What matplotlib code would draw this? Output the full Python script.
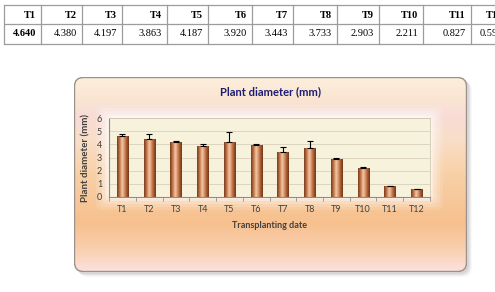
import numpy as np
import matplotlib.pyplot as plt
from matplotlib.patches import FancyBboxPatch
from matplotlib.colors import LinearSegmentedColormap

dates = ["T1", "T2", "T3", "T4", "T5", "T6", "T7", "T8", "T9", "T10", "T11", "T12"]
diameter = [4.640, 4.380, 4.197, 3.863, 4.187, 3.920, 3.443, 3.733, 2.903, 2.211, 0.827, 0.593]
err_up = [0.13, 0.44, 0.03, 0.13, 0.76, 0.10, 0.32, 0.53, 0.05, 0.05, 0.04, 0.05]
y_ticks = [0, 1, 2, 3, 4, 5, 6]

W, H = 495, 292
fig = plt.figure(figsize=(W / 100, H / 100), dpi=100)
fig.patch.set_facecolor("white")

# layer in pixel coordinates for the table and the box shadow
tab = fig.add_axes([0, 0, 1, 1])
tab.set_xlim(0, W)
tab.set_ylim(H, 0)
tab.axis("off")

col_edges = [4, 41, 82, 122, 167, 208, 252, 293, 337, 379, 423, 471, 508]
line_col = "#9c9c9c"
for yy in (5, 24, 44):
    tab.plot([col_edges[0], W], [yy, yy], color=line_col, lw=0.9, solid_capstyle="butt")
for xx in col_edges:
    tab.plot([xx, xx], [5, 44], color=line_col, lw=0.9)
for i, (d, v) in enumerate(zip(dates, diameter)):
    xr = col_edges[i + 1] - 5
    tab.text(xr, 15, d, ha="right", va="center", family="Liberation Serif",
             weight="bold", fontsize=7.5, color="black")
    tab.text(xr, 34, f"{v:.3f}", ha="right", va="center", family="Liberation Serif",
             weight="bold" if i == 0 else "normal", fontsize=7.5, color="black")

# chart box shadow
bx0, by0, bx1, by1 = 74, 77, 467, 272
for k, a in enumerate([0.10, 0.08, 0.06, 0.04]):
    sh = FancyBboxPatch((bx0 + 2 + k, by0 + 2 + k), bx1 - bx0, by1 - by0,
                        boxstyle="round,pad=0,rounding_size=9",
                        facecolor="#6e5f60", edgecolor="none", alpha=a)
    tab.add_patch(sh)

# chart box with gradient background
bw, bh = bx1 - bx0, by1 - by0
box = fig.add_axes([bx0 / W, 1 - by1 / H, bw / W, bh / H])
box.set_xlim(0, bw)
box.set_ylim(bh, 0)
box.axis("off")
bg_cmap = LinearSegmentedColormap.from_list("bg", [
    (0.00, "#fcefdc"), (0.10, "#fae6d2"), (0.20, "#f8dcd6"), (0.32, "#f9dec8"),
    (0.50, "#f8d0a6"), (0.75, "#f7c08e"), (0.88, "#f9cfae"), (1.00, "#fce2de")])
grad = np.linspace(0, 1, 256).reshape(-1, 1)
im = box.imshow(grad, cmap=bg_cmap, extent=(0, bw, bh, 0), aspect="auto", origin="upper")
frame = FancyBboxPatch((0.5, 0.5), bw - 1, bh - 1, boxstyle="round,pad=0,rounding_size=9",
                       facecolor="none", edgecolor="#9a908c", lw=1.0)
box.add_patch(frame)
im.set_clip_path(frame)

# white glow around plot area
px0, py0, px1, py1 = 109, 118, 430, 197
for pad, a in [(13, 0.12), (10, 0.15), (7, 0.2), (4, 0.3), (2, 0.4)]:
    g = FancyBboxPatch((px0 - bx0 - pad, py0 - by0 - pad), (px1 - px0) + 2 * pad,
                       (py1 - py0) + 2 * pad, boxstyle="round,pad=0,rounding_size=6",
                       facecolor="white", edgecolor="none", alpha=a)
    box.add_patch(g)

# plot
ax = fig.add_axes([px0 / W, 1 - py1 / H, (px1 - px0) / W, (py1 - py0) / H])
ax.set_facecolor("#f7f2dc")
x = np.arange(len(dates))
bars = ax.bar(x, diameter, width=0.42, color="#c07850", edgecolor="none", zorder=2)
bar_cmap = LinearSegmentedColormap.from_list("bar", [
    "#7a3c1c", "#a85f36", "#d08c64", "#f2c6a4", "#e2a47c", "#bf7548", "#9a5028", "#733719"])
hgrad = np.linspace(0, 1, 64).reshape(1, -1)
for b in bars:
    bi = ax.imshow(hgrad, cmap=bar_cmap, aspect="auto", zorder=2.1,
                   extent=(b.get_x(), b.get_x() + b.get_width(), 0, b.get_height()))
    bi.set_clip_path(b)
ax.errorbar(x, diameter, yerr=[np.zeros(len(x)), err_up], fmt="none", ecolor="black",
            elinewidth=0.8, capsize=2.5, capthick=0.8, zorder=3)

ax.set_xlim(-0.5, len(dates) - 0.5)
ax.set_ylim(0, 6)
ax.set_yticks(y_ticks)
ax.yaxis.grid(True, color="#d8d0ba", lw=0.6, zorder=0)
ax.set_axisbelow(True)
ax.set_xticks(x)
ax.set_xticklabels(dates)
ax.set_xticks(np.arange(-0.5, len(dates)), minor=True)
ax.tick_params(axis="x", which="major", length=0, pad=6, labelsize=6.5, labelcolor="#404040")
ax.tick_params(axis="x", which="minor", length=3, color="#909090", width=0.6)
ax.tick_params(axis="y", length=0, pad=5, labelsize=6.5, labelcolor="#404040")
for lab in ax.get_xticklabels() + ax.get_yticklabels():
    lab.set_family("Lato")
for s in ("top", "right"):
    ax.spines[s].set_color("#d0c8b4")
    ax.spines[s].set_linewidth(0.6)
for s in ("left", "bottom"):
    ax.spines[s].set_color("#8c8c8c")
    ax.spines[s].set_linewidth(0.8)

fig.text(270 / W, 1 - 92 / H, "Plant diameter (mm)", ha="center", va="center",
         family="Lato", weight="bold", fontsize=8, color="#1c1c72")
fig.text(86 / W, 1 - 158 / H, "Plant diameter (mm)", ha="center", va="center", rotation=90,
         family="Lato", weight="bold", fontsize=7, color="#404040")
fig.text(270 / W, 1 - 226 / H, "Transplanting date", ha="center", va="center",
         family="Lato", weight="bold", fontsize=6.5, color="#404040")

fig.savefig("out.png", dpi=100)
